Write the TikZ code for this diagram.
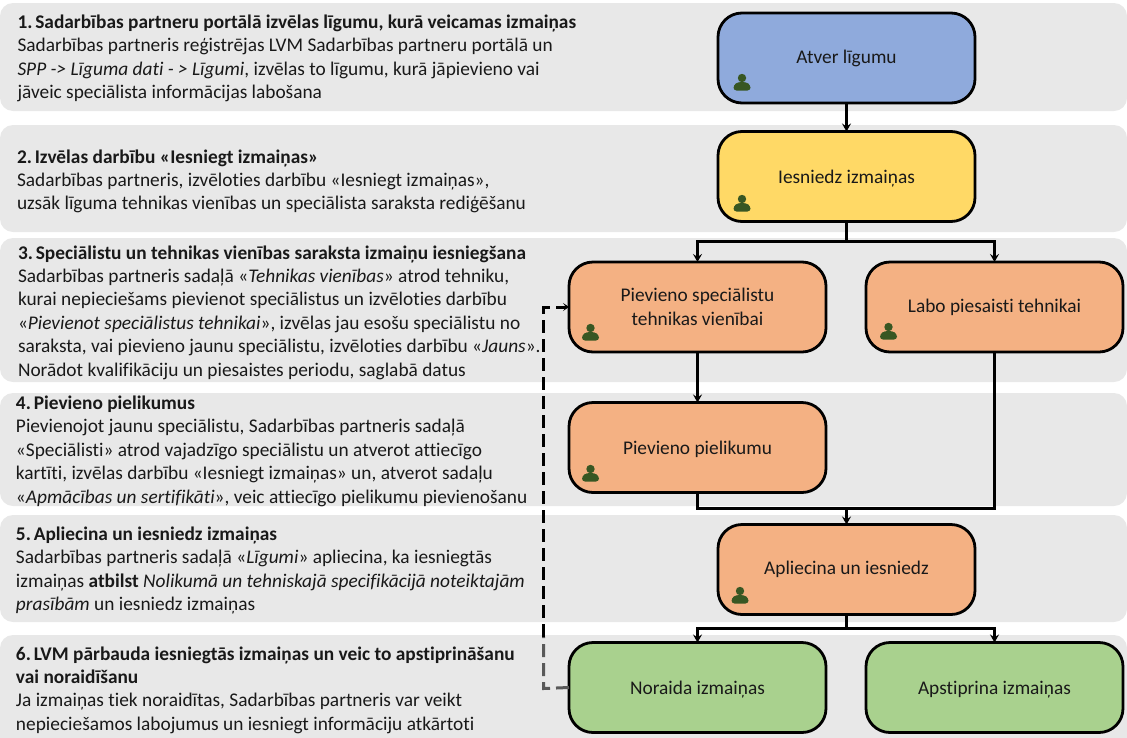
\documentclass[tikz,border=0pt]{standalone}
\usepackage{fontspec}
\setmainfont{Carlito}[Ligatures=NoCommon]
\usetikzlibrary{arrows.meta}
\definecolor{band}{HTML}{E8E8E8}
\definecolor{cblue}{HTML}{8FAADC}
\definecolor{cyellow}{HTML}{FFD966}
\definecolor{corange}{HTML}{F4B183}
\definecolor{cgreen}{HTML}{A9D18E}
\definecolor{cicon}{HTML}{385723}
\newcommand\lowtext[1]{\raisebox{-2pt}[\height][\depth]{#1}}
\newcommand\numgap{\hspace{-3pt}}
\tikzset{
  bandbox/.style={fill=band,draw=none,rounded corners=13pt},
  descr/.style={anchor=north west,inner sep=0pt,outer sep=0pt,align=left,font=\fontsize{19.35}{23.4}\selectfont,text=black!90},
  flowbox/.style={draw=black,line width=2.8pt,rounded corners=24pt,minimum width=257pt,minimum height=90pt,inner sep=0pt,outer sep=0pt,align=center,font=\fontsize{19.35}{24}\selectfont,text=black!90},
  flow/.style={line width=3pt,draw=black},
  tipped/.style={flow,-{Stealth[length=8pt,width=9pt,inset=3pt]}},
  back/.style={line width=3pt,draw=black,dash pattern=on 13pt off 6pt},
  backtip/.style={back,-{Stealth[length=6pt,width=8pt,inset=3pt]}},
  backgrey/.style={back,draw=black!65},
  person/.pic={
    \fill[cicon] (0,-4) circle (4.2pt);
    \fill[cicon,rounded corners=3pt] (-8.5,8.5) -- (-8.5,3) -- (-4,0) -- (4,0) -- (8.5,3) -- (8.5,8.5) -- cycle;
  }
}
\begin{document}
\begin{tikzpicture}[x=1pt,y=-1pt]
\useasboundingbox (0,0) rectangle (1127,737);
\begin{scope}
\clip (0,0) rectangle (1127,737);
\fill[bandbox] (0,3) rectangle (1127,111);
\fill[bandbox] (0,125) rectangle (1127,232);
\fill[bandbox] (0,238) rectangle (1127,382);
\fill[bandbox] (0,393) rectangle (1127,506);
\fill[bandbox] (0,515) rectangle (1127,622);
\fill[bandbox] (0,635) rectangle (1127,760);
\end{scope}

\node[descr] (t1) at (17.5,15) {\textbf{1.\numgap{} Sadarbības partneru portālā izvēlas līgumu, kurā veicamas izmaiņas}\\Sadarbības partneris reģistrējas LVM Sadarbības partneru portālā un\\\textit{SPP -> Līguma dati - > Līgumi}, izvēlas to līgumu, kurā jāpievieno vai\\jāveic speciālista informācijas labošana};
\node[descr] (t2) at (17,149.5) {\textbf{2.\numgap{} Izvēlas darbību «Iesniegt izmaiņas»}\\Sadarbības partneris, izvēloties darbību «Iesniegt izmaiņas»,\\uzsāk līguma tehnikas vienības un speciālista saraksta rediģēšanu};
\node[descr] (t3) at (18,245.5) {\textbf{3.\numgap{} Speciālistu un tehnikas vienības saraksta izmaiņu iesniegšana}\\Sadarbības partneris sadaļā «\textit{Tehnikas vienības}» atrod tehniku,\\kurai nepieciešams pievienot speciālistus un izvēloties darbību\\«\textit{Pievienot speciālistus tehnikai}», izvēlas jau esošu speciālistu no\\saraksta, vai pievieno jaunu speciālistu, izvēloties darbību «\textit{Jauns}».\\Norādot kvalifikāciju un piesaistes periodu, saglabā datus};
\node[descr] (t4) at (16,396) {\textbf{4.\numgap{} Pievieno pielikumus}\\Pievienojot jaunu speciālistu, Sadarbības partneris sadaļā\\«Speciālisti» atrod vajadzīgo speciālistu un atverot attiecīgo\\kartīti, izvēlas darbību «Iesniegt izmaiņas» un, atverot sadaļu\\«\textit{Apmācības un sertifikāti}», veic attiecīgo pielikumu pievienošanu};
\node[descr] (t5) at (16,527) {\textbf{5.\numgap{} Apliecina un iesniedz izmaiņas}\\Sadarbības partneris sadaļā «\textit{Līgumi}» apliecina, ka iesniegtās\\izmaiņas \textbf{atbilst} \textit{Nolikumā un tehniskajā specifikācijā noteiktajām}\\\textit{prasībām} un iesniedz izmaiņas};
\node[descr] (t6) at (16,646.5) {\textbf{6.\numgap{} LVM pārbauda iesniegtās izmaiņas un veic to apstiprināšanu}\\\textbf{vai noraidīšanu}\\Ja izmaiņas tiek noraidītas, Sadarbības partneris var veikt\\nepieciešamos labojumus un iesniegt informāciju atkārtoti};

\node[flowbox,fill=cblue] (atver) at (846.5,58) {Atver līgumu};
\node[flowbox,fill=cyellow] (iesn) at (846.5,176.5) {\lowtext{Iesniedz izmaiņas}};
\node[flowbox,fill=corange] (spec) at (697.5,307) {Pievieno speciālistu\\tehnikas vienībai};
\node[flowbox,fill=corange] (labo) at (994.5,307) {Labo piesaisti tehnikai};
\node[flowbox,fill=corange] (piel) at (697.5,447.5) {\lowtext{Pievieno pielikumu}};
\node[flowbox,fill=corange] (apl) at (846.5,569.5) {Apliecina un iesniedz};
\node[flowbox,fill=cgreen] (nor) at (697.5,687.5) {\lowtext{Noraida izmaiņas}};
\node[flowbox,fill=cgreen] (aps) at (994.5,687.5) {\lowtext{Apstiprina izmaiņas}};

\pic at (742,82) {person};
\pic at (742,203) {person};
\pic at (590.5,332) {person};
\pic at (888.5,331) {person};
\pic at (590.5,473) {person};
\pic at (740,595) {person};

\coordinate (j1) at (846.5,241.5);
\coordinate (j2) at (846.5,508.5);
\coordinate (j3) at (846.5,628.5);
\coordinate (r1) at (543.5,688.5);
\coordinate (r3) at (543.5,636.5);
\coordinate (r2) at (543.5,307);

\draw[tipped] (atver.south) -- (iesn.north);
\draw[flow] (iesn.south) -- (j1);
\draw[tipped] (j1) -| (spec.north);
\draw[tipped] (j1) -| (labo.north);
\draw[tipped] (spec.south) -- (piel.north);
\draw[flow] (piel.south) |- (j2);
\draw[flow] (labo.south) |- (j2);
\draw[tipped] (j2) -- (apl.north);
\draw[flow] (apl.south) -- (j3);
\draw[tipped] (j3) -| (nor.north);
\draw[tipped] (j3) -| (aps.north);
\draw[backgrey] (nor.west) -- (r1) -- (r3);
\draw[backtip] (r3) -- (r2) -- (spec.west);
\end{tikzpicture}
\end{document}
